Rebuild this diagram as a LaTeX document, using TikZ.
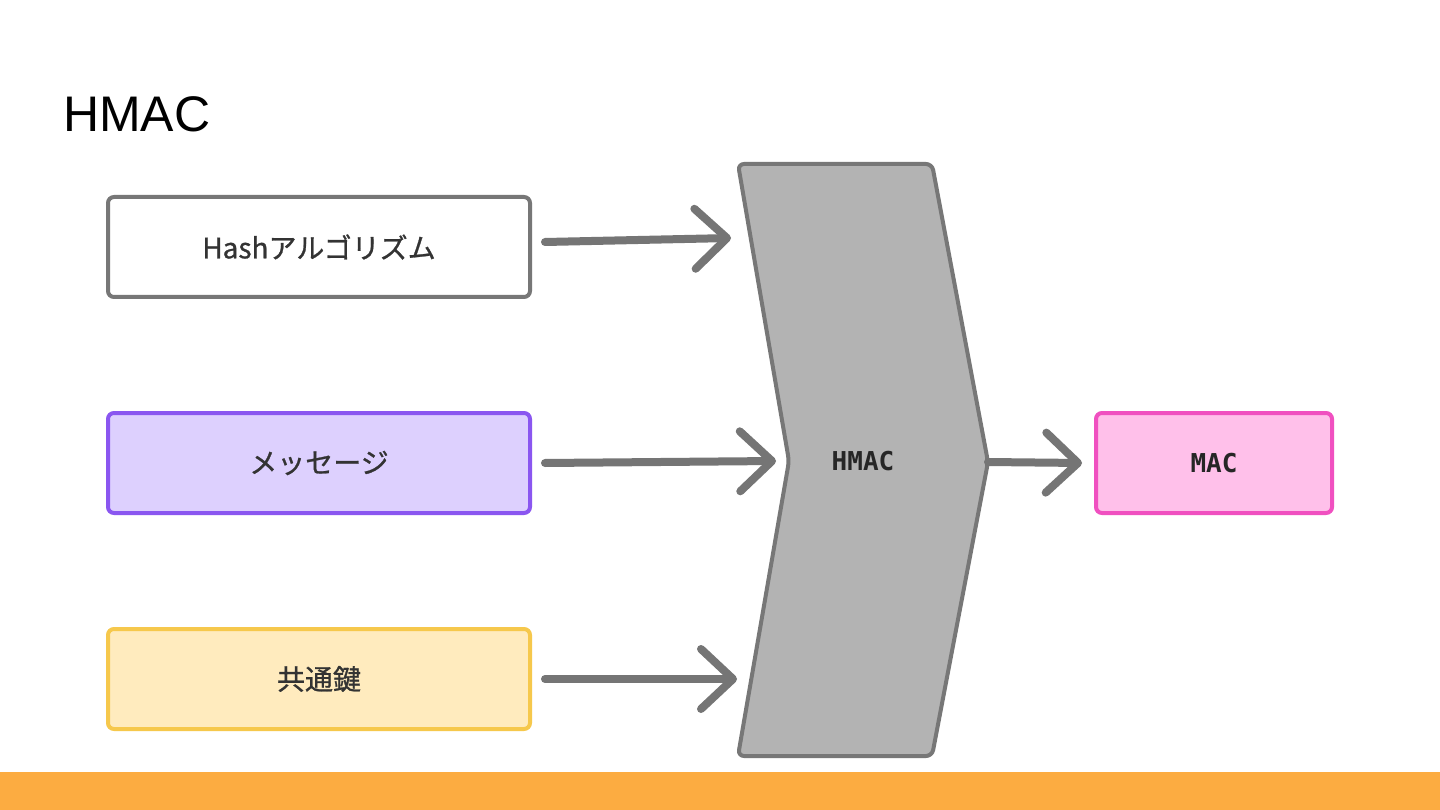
\documentclass[tikz,border=0pt]{standalone}
\usepackage{fontspec}
\setmainfont{Liberation Sans}
\newfontfamily\jpfont[FakeBold=0.9]{Noto Sans CJK JP}
\newfontfamily\monofont{DejaVu Sans Mono}
\usetikzlibrary{arrows.meta}
\definecolor{bargold}{HTML}{FCAC41}
\definecolor{edgegray}{HTML}{777777}
\definecolor{arrowgray}{HTML}{757575}
\definecolor{chevfill}{HTML}{B3B3B3}
\definecolor{txtdark}{HTML}{333333}
\definecolor{msgfill}{HTML}{DDD0FE}
\definecolor{msgedge}{HTML}{8A56F0}
\definecolor{keyfill}{HTML}{FFEBBE}
\definecolor{keyedge}{HTML}{F6C84C}
\definecolor{macfill}{HTML}{FFC0EA}
\definecolor{macedge}{HTML}{F050C0}
\tikzset{
  inbox/.style={draw, line width=4pt, rounded corners=6pt, minimum width=422pt, minimum height=100pt,
    inner sep=0pt, text=txtdark, font=\jpfont\fontsize{28pt}{32pt}\selectfont},
  flow/.style={draw=arrowgray, line width=8pt, line cap=round,
    -{Straight Barb[length=32pt,width=60pt,line cap=round,line join=round]}},
  monolabel/.style={text=black!85, font=\monofont\bfseries\fontsize{26pt}{30pt}\selectfont}
}
\begin{document}
\begin{tikzpicture}[x=1pt,y=-1pt]
\useasboundingbox (0,0) rectangle (1440,810);
\fill[white] (0,0) rectangle (1440,810);
\fill[bargold] (0,772) rectangle (1440,810);
\node[anchor=base west, inner sep=0pt, font=\fontsize{50pt}{56pt}\selectfont] (title) at (63,132) {HMAC};

\node[inbox, draw=edgegray, fill=white] (hash) at (319,247) {Hashアルゴリズム};
\node[inbox, draw=msgedge, fill=msgfill] (msg) at (319,463) {メッセージ};
\node[inbox, draw=keyedge, fill=keyfill] (key) at (319,679) {共通鍵};
\node[inbox, draw=macedge, fill=macfill, minimum width=236pt] (mac) at (1214,463) {};
\node[monolabel] (maclabel) at (1214,463) {MAC};

\coordinate (ctl) at (738,164);
\coordinate (ctr) at (932,164);
\coordinate (cright) at (988,462);
\coordinate (cbr) at (932,756);
\coordinate (cbl) at (738,756);
\coordinate (cleft) at (789,461);
\draw[draw=edgegray, fill=chevfill, line width=4pt, rounded corners=6pt, line join=round]
  (ctl) -- (ctr) -- (cright) -- (cbr) -- (cbl) -- (cleft) -- cycle;
\node[monolabel] (hmac) at (863,461) {HMAC};

\coordinate (e1) at (731,238);
\coordinate (e2) at (776,461);
\coordinate (e3) at (737,679);
\coordinate (e4) at (1082,463);
\draw[flow] ([xshift=13pt,yshift=5pt]hash.east) -- (e1);
\draw[flow] ([xshift=13pt]msg.east) -- (e2);
\draw[flow] ([xshift=13pt]key.east) -- (e3);
\draw[flow] (cright) -- (e4);
\end{tikzpicture}
\end{document}
